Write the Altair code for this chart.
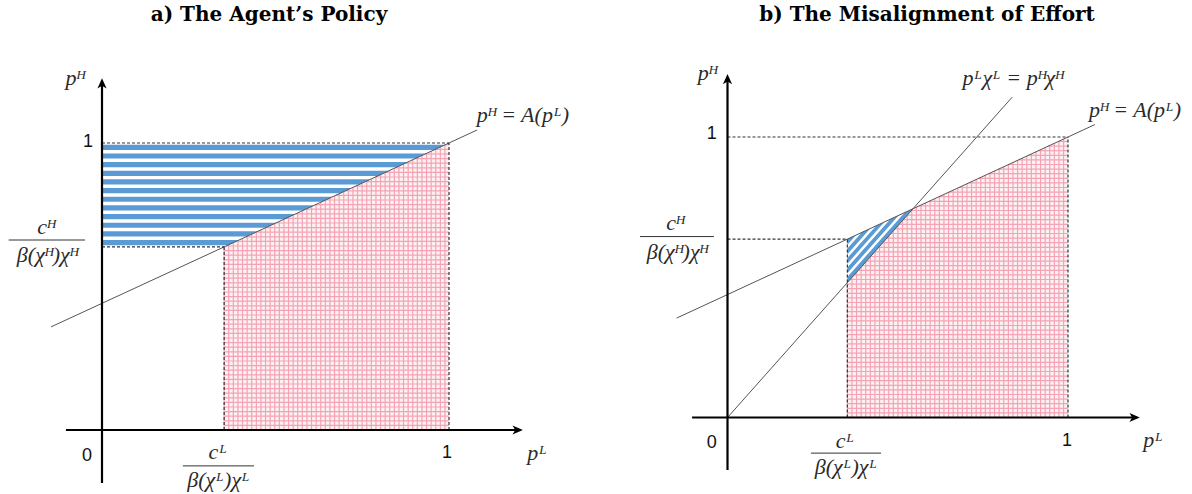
import altair as alt
import pandas as pd
import numpy as np

# ---------------- values ----------------
panel_titles = ["a) The Agent\u2019s Policy", "b) The Misalignment of Effort"]
cL_vals = [0.352, 0.352]          # c^L / (beta(chi^L) chi^L) on the p^L axis
cH_vals = [0.638, 0.636]          # c^H / (beta(chi^H) chi^H) on the p^H axis
A_line_x = [[-0.147, 1.081], [-0.149, 1.079]]   # drawn extent of p^H = A(p^L)
iso_slope = 1.366                 # p^L chi^L = p^H chi^H  ->  p^H = 1.366 p^L  (panel b)
iso_x = [0.0, 0.836]              # drawn extent of that ray
x_axis_ext = [[-0.104, 1.213], [-0.104, 1.211]]
y_axis_ext = [[-0.185, 1.226], [-0.187, 1.225]]
n_stripes = [12, 5]

# label positions (data units of each panel)
math_labels = [
    [("p\u1d34", -0.078, 1.226), ("p\u1d38", 1.254, -0.080), ("p\u1d34 = A(p\u1d38)", 1.213, 1.098),
     ("c\u1d38", 0.334, -0.078), ("\u03b2(\u03c7\u1d38)\u03c7\u1d38", 0.336, -0.174),
     ("c\u1d34", -0.161, 0.707), ("\u03b2(\u03c7\u1d34)\u03c7\u1d34", -0.158, 0.610)],
    [("p\u1d34", -0.060, 1.228), ("p\u1d38", 1.250, -0.080), ("p\u1d34 = A(p\u1d38)", 1.197, 1.096),
     ("p\u1d38\u03c7\u1d38 = p\u1d34\u03c7\u1d34", 0.838, 1.210),
     ("c\u1d38", 0.345, -0.085), ("\u03b2(\u03c7\u1d38)\u03c7\u1d38", 0.348, -0.176),
     ("c\u1d34", -0.154, 0.693), ("\u03b2(\u03c7\u1d34)\u03c7\u1d34", -0.148, 0.591)],
]
tick_labels = [
    [("0", -0.043, -0.091), ("1", 0.994, -0.080), ("1", -0.040, 1.003)],
    [("0", -0.046, -0.091), ("1", 0.997, -0.084), ("1", -0.046, 1.011)],
]
frac_bars = [
    [(0.233, 0.438, -0.125), (-0.269, -0.049, 0.662)],
    [(0.245, 0.451, -0.127), (-0.257, -0.040, 0.645)],
]

# ---------------- layout (pixels) ----------------
W = 596
TOTAL_H = 494
PAD_TOP = 5
TITLE_SIZE = 20
TITLE_OFFSET = 10
T = PAD_TOP + TITLE_SIZE + TITLE_OFFSET      # page y of the plot area's top
H = TOTAL_H - T
PIX = [(102.0, 430.0, 347.0, 287.0), (131.5, 417.5, 340.5, 280.5)]   # origin x, origin y, px per unit x, y
title_dx = [-29, 33]

BLUE = "#5b9bd5"
PINK = "#f3a3b3"
DASH = "#2e3440"


def panel(i):
    ox, oy, ux, uy = PIX[i]
    cL, cH = cL_vals[i], cH_vals[i]
    slope = (1 - cH) / (1 - cL)
    icpt = 1 - slope
    A = lambda x: icpt + slope * x
    Ainv = lambda y: (y - icpt) / slope

    xs = alt.Scale(domain=[-ox / ux, (W - ox) / ux], nice=False, zero=False)
    ys = alt.Scale(domain=[(oy - TOTAL_H) / uy, (oy - T) / uy], nice=False, zero=False)

    def X(f):
        return alt.X(f, type="quantitative", scale=xs, axis=None)

    def Y(f):
        return alt.Y(f, type="quantitative", scale=ys, axis=None)

    if i == 0:
        up = lambda x: A(x)
        px = [cL, 1.0]
    else:
        up = lambda x: min(A(x), iso_slope * x)
        x_int = icpt / (iso_slope - slope)
        px = [cL, x_int, 1.0]

    layers = []

    # pink region background
    bg = pd.DataFrame({"x": px, "y": [up(v) for v in px], "y0": 0.0})
    layers.append(alt.Chart(bg).mark_area(color="#fdf1f3").encode(x=X("x"), y=Y("y"), y2="y0"))

    # pink grid (hatch pattern)
    dxg, dyg = 4.6 / ux, 4.6 / uy
    xg = cL + np.arange(0, int((1 - cL) / dxg) + 1) * dxg
    vg = pd.DataFrame({"x": xg, "y": 0.0, "y2": [up(v) for v in xg]})
    hy = np.arange(1, int(1.0 / dyg) + 1) * dyg
    rows = []
    for y in hy:
        xsrt = max(cL, Ainv(y))
        if i == 1:
            xsrt = max(xsrt, y / iso_slope)
        if xsrt < 1:
            rows.append((xsrt, 1.0, y))
    hg = pd.DataFrame(rows, columns=["x", "x2", "y"])
    layers.append(alt.Chart(vg).mark_rule(color=PINK, strokeWidth=1.2).encode(x=X("x"), y=Y("y"), y2="y2"))
    layers.append(alt.Chart(hg).mark_rule(color=PINK, strokeWidth=1.2).encode(x=X("x"), x2="x2", y=Y("y")))

    # blue stripes
    if i == 0:
        P = (1 - cH) / n_stripes[0]
        srows = []
        for j in range(n_stripes[0]):
            top = 1 - j * P - 0.2 * P
            bot = top - 0.6 * P
            srows.append((j, top, 0.0, Ainv(top)))
            srows.append((j, bot, 0.0, Ainv(bot)))
        sd = pd.DataFrame(srows, columns=["sid", "y", "x", "x2"])
        layers.append(alt.Chart(sd).mark_area(orient="horizontal", color=BLUE).encode(
            y=Y("y"), x=X("x"), x2="x2", detail="sid:N"))
    else:
        kmax = cH - iso_slope * cL
        P = kmax / (n_stripes[1] - 0.4)
        xA = lambda k: (icpt - k) / (iso_slope - slope)
        srows = []
        for j in range(n_stripes[1]):
            k1 = j * P
            k2 = min(kmax, k1 + 0.6 * P)
            a2, a1 = xA(k2), xA(k1)
            srows.append((j, cL, iso_slope * cL + k1, iso_slope * cL + k2))
            srows.append((j, a2, iso_slope * a2 + k1, A(a2)))
            srows.append((j, a1, A(a1), A(a1)))
        sd = pd.DataFrame(srows, columns=["sid", "x", "y", "y2"])
        layers.append(alt.Chart(sd).mark_area(color=BLUE).encode(
            x=X("x"), y=Y("y"), y2="y2", detail="sid:N"))

    # thin lines
    seg = [(A_line_x[i][0], A(A_line_x[i][0]), A_line_x[i][1], A(A_line_x[i][1]))]
    if i == 1:
        seg.append((iso_x[0], iso_slope * iso_x[0], iso_x[1], iso_slope * iso_x[1]))
    ld = pd.DataFrame(seg, columns=["x", "y", "x2", "y2"])
    layers.append(alt.Chart(ld).mark_rule(color="#555555", strokeWidth=1.0).encode(
        x=X("x"), y=Y("y"), x2="x2", y2="y2"))

    # dashed guides
    dd = pd.DataFrame([(0, 1, 1, 1), (0, cH, cL, cH), (cL, 0, cL, cH), (1, 0, 1, 1)],
                      columns=["x", "y", "x2", "y2"])
    layers.append(alt.Chart(dd).mark_rule(color=DASH, strokeWidth=1.2, strokeDash=[3, 2]).encode(
        x=X("x"), y=Y("y"), x2="x2", y2="y2"))

    # axes
    xa, ya = x_axis_ext[i], y_axis_ext[i]
    ad = pd.DataFrame([(xa[0], 0, xa[1] - 5 / ux, 0), (0, ya[0], 0, ya[1] - 5 / uy)],
                      columns=["x", "y", "x2", "y2"])
    layers.append(alt.Chart(ad).mark_rule(color="#000000", strokeWidth=2.2).encode(
        x=X("x"), y=Y("y"), x2="x2", y2="y2"))
    up_arrow = "M0,0L0.75,1.7L0,1.25L-0.75,1.7Z"
    rt_arrow = "M0,0L-1.7,-0.75L-1.25,0L-1.7,0.75Z"
    layers.append(alt.Chart(pd.DataFrame({"x": [0.0], "y": [ya[1]]})).mark_point(
        shape=up_arrow, filled=True, color="#000000", size=150, opacity=1).encode(x=X("x"), y=Y("y")))
    layers.append(alt.Chart(pd.DataFrame({"x": [xa[1]], "y": [0.0]})).mark_point(
        shape=rt_arrow, filled=True, color="#000000", size=150, opacity=1).encode(x=X("x"), y=Y("y")))

    # fraction bars
    fb = pd.DataFrame(frac_bars[i], columns=["x", "x2", "y"])
    layers.append(alt.Chart(fb).mark_rule(color="#333333", strokeWidth=1.0).encode(
        x=X("x"), x2="x2", y=Y("y")))

    # texts
    md = pd.DataFrame(math_labels[i], columns=["t", "x", "y"])
    layers.append(alt.Chart(md).mark_text(font="Liberation Serif", fontStyle="italic", fontSize=22,
                                          color="#2a2a2a", align="center", baseline="middle").encode(
        x=X("x"), y=Y("y"), text="t:N"))
    td = pd.DataFrame(tick_labels[i], columns=["t", "x", "y"])
    layers.append(alt.Chart(td).mark_text(font="Liberation Sans", fontSize=18, color="#111111",
                                          align="center", baseline="middle").encode(
        x=X("x"), y=Y("y"), text="t:N"))

    return alt.layer(*layers).properties(
        width=W, height=H,
        title=alt.TitleParams(panel_titles[i], font="DejaVu Serif", fontSize=TITLE_SIZE, fontWeight="bold",
                              anchor="middle", frame="group", offset=TITLE_OFFSET, dx=title_dx[i],
                              color="#000000"))


chart = alt.hconcat(panel(0), panel(1), spacing=0).properties(
    padding={"top": PAD_TOP, "left": 0, "right": 0, "bottom": 0}, background="white") \
    .configure_view(strokeWidth=0)

chart.save("out.html", embed_options={"renderer": "svg", "actions": False})
